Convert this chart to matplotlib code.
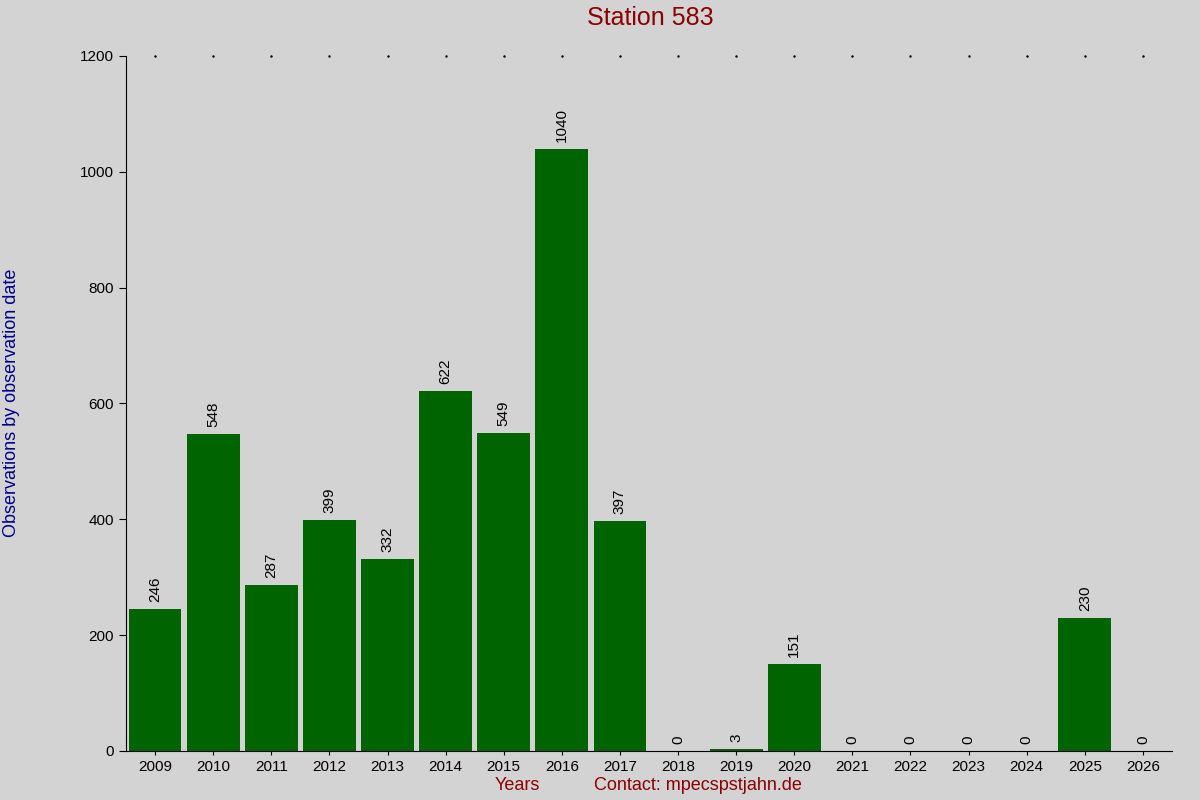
import matplotlib
matplotlib.use("Agg")
import matplotlib.pyplot as plt

years = [str(y) for y in range(2009, 2027)]
values = [246, 548, 287, 399, 332, 622, 549, 1040, 397, 0, 3, 151, 0, 0, 0, 0, 230, 0]

plt.rcParams['font.family'] = ['Liberation Sans', 'DejaVu Sans']
fig = plt.figure(figsize=(12, 8), dpi=100, facecolor='#d3d3d3')
ax = fig.add_axes([126/1200, 1-751/800, (1172-126)/1200, (751-56)/800])
ax.set_facecolor('#d3d3d3')
x = list(range(len(years)))
ax.bar(x, values, width=0.91, color='#006400')
for xi, v in zip(x, values):
    ax.text(xi, v + 12, str(v), rotation=90, ha='center', va='bottom', fontsize=11, color='black')
ax.set_xlim(-0.5, len(years) - 0.5)
ax.set_ylim(0, 1200)
ax.set_yticks(range(0, 1201, 200))
ax.set_xticks(x)
ax.set_xticklabels(years, fontsize=11)
ax.tick_params(axis='y', labelsize=11, length=5, direction='out')
ax.tick_params(axis='x', length=3, direction='out')
for s in ['top', 'right']:
    ax.spines[s].set_visible(False)
for xi in x:
    ax.plot(xi, 1200, marker='.', markersize=1.5, color='black', clip_on=False)
fig.text(650/1200, 1-18/800, 'Station 583', ha='center', va='center', fontsize=18, color='#8b0000')
fig.text(12/1200, 1-403/800, 'Observations by observation date', rotation=90, ha='center', va='center', fontsize=13, color='#00008b')
fig.text(517/1200, 1-786/800, 'Years', ha='center', va='center', fontsize=13, color='#8b0000')
fig.text(698/1200, 1-786/800, 'Contact: mpecspstjahn.de', ha='center', va='center', fontsize=13, color='#8b0000')
fig.savefig('out.png', dpi=100, facecolor=fig.get_facecolor())
